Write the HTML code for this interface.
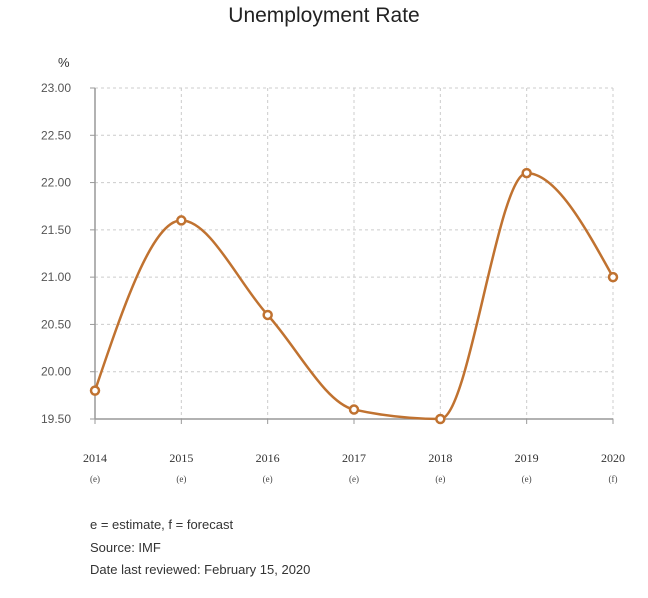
<!DOCTYPE html>
<html><head><meta charset="utf-8"><style>
body{margin:0;background:#fff;width:648px;height:598px;overflow:hidden;font-family:"Liberation Sans",sans-serif}
.note{position:absolute;left:90px;font-size:13px;color:#333}
</style></head><body>
<svg width="648" height="598" style="position:absolute;left:0;top:0">
<text x="324" y="22" text-anchor="middle" font-size="21" fill="#222">Unemployment Rate</text>
<text x="58" y="67" font-size="13" fill="#333">%</text>
<g id="grid"></g><g id="axes"></g><g id="series"></g>
</svg>
<div class="note" style="top:517px">e = estimate, f = forecast</div>
<div class="note" style="top:540px">Source: IMF</div>
<div class="note" style="top:562px">Date last reviewed: February 15, 2020</div>
<script>
const years=["2014","2015","2016","2017","2018","2019","2020"];
const flags=["(e)","(e)","(e)","(e)","(e)","(e)","(f)"];
const rates=[19.8,21.6,20.6,19.6,19.5,22.1,21.0];
const yTicks=[19.5,20,20.5,21,21.5,22,22.5,23];
const NS="http://www.w3.org/2000/svg";
const X0=95,X1=613,Y0=419,Y1=88,ymin=19.5,ymax=23;
const xs=i=>X0+(X1-X0)*i/(years.length-1);
const ys=v=>Y0-(v-ymin)/(ymax-ymin)*(Y0-Y1);
function mk(t,a,p){const e=document.createElementNS(NS,t);for(const k in a)e.setAttribute(k,a[k]);p.appendChild(e);return e;}
const grid=document.getElementById('grid'),axes=document.getElementById('axes'),ser=document.getElementById('series');
yTicks.forEach(v=>{
 if(v>ymin){const l=mk('line',{x1:X0,x2:X1,y1:ys(v),y2:ys(v),stroke:'#ccc','stroke-dasharray':'3,3'},grid);
 
 }
 const t=mk('text',{x:X0-24,y:ys(v)+4,'text-anchor':'end','font-size':12,fill:'#555'},axes);t.textContent=v.toFixed(2);
 
 
 mk('line',{x1:X0-5,x2:X0,y1:ys(v),y2:ys(v),stroke:'#999'},axes);
});
years.forEach((y,i)=>{
 const x=xs(i);
 if(i>0){const l=mk('line',{x1:x,x2:x,y1:Y1,y2:Y0,stroke:'#ccc','stroke-dasharray':'3,3'},grid);
 
 }
 mk('line',{x1:x,x2:x,y1:Y0,y2:Y0+5,stroke:'#999'},axes);
 const t=mk('text',{x:x,y:462,'text-anchor':'middle','font-size':12,fill:'#333','font-family':'Liberation Serif,serif'},axes);t.textContent=y;
 
 
 const f=mk('text',{x:x,y:482,'text-anchor':'middle','font-size':9,fill:'#444','font-family':'Liberation Serif,serif'},axes);f.textContent=flags[i];
 
 
});
mk('line',{x1:X0,x2:X0,y1:Y1,y2:Y0,stroke:'#999','stroke-width':1.5},axes);
mk('line',{x1:X0,x2:X1,y1:Y0,y2:Y0,stroke:'#999','stroke-width':1.5},axes);
// monotone cubic (d3 curveMonotoneX)
const P=rates.map((v,i)=>[xs(i),ys(v)]);
const n=P.length,sl=[],t=[];
for(let i=0;i<n-1;i++)sl.push((P[i+1][1]-P[i][1])/(P[i+1][0]-P[i][0]));
for(let i=0;i<n;i++){
 if(i===0||i===n-1)continue;
 const s0=sl[i-1],s1=sl[i],h0=P[i][0]-P[i-1][0],h1=P[i+1][0]-P[i][0];
 const p=(s0*h1+s1*h0)/(h0+h1);
 t[i]=(Math.sign(s0)+Math.sign(s1))*Math.min(Math.abs(s0),Math.abs(s1),0.5*Math.abs(p))||0;
}
t[0]=(3*sl[0]-t[1])/2; t[n-1]=(3*sl[n-2]-t[n-2])/2;
let d=`M${P[0][0]},${P[0][1]}`;
for(let i=0;i<n-1;i++){
 const dx=(P[i+1][0]-P[i][0])/3;
 d+=`C${P[i][0]+dx},${P[i][1]+dx*t[i]} ${P[i+1][0]-dx},${P[i+1][1]-dx*t[i+1]} ${P[i+1][0]},${P[i+1][1]}`;
}
const path=mk('path',{d:d,fill:'none',stroke:'#c07230','stroke-width':2.5},ser);


P.forEach(p=>{const c=mk('circle',{cx:p[0],cy:p[1],r:4,fill:'#fff',stroke:'#c07230','stroke-width':2.5},ser);
 
 });
</script>
</body></html>
